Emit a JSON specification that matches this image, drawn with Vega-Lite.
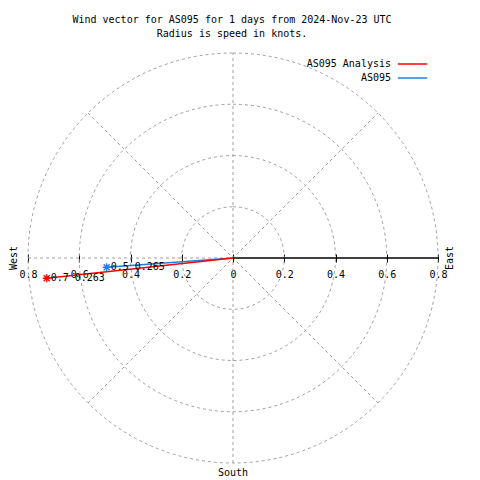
{
  "$schema": "https://vega.github.io/schema/vega-lite/v6.json",
  "width": 410,
  "height": 410,
  "autosize": {"type": "none"},
  "padding": {"left": 28, "top": 53, "right": 42, "bottom": 17},
  "background": "white",
  "config": {"view": {"stroke": null}, "font": "DejaVu Sans Mono"},
  "title": {
    "text": "Wind vector for AS095 for 1 days from 2024-Nov-23 UTC",
    "subtitle": "Radius is speed in knots.",
    "font": "DejaVu Sans Mono",
    "fontSize": 10,
    "fontWeight": "normal",
    "color": "black",
    "subtitleFont": "DejaVu Sans Mono",
    "subtitleFontSize": 10,
    "subtitleColor": "black",
    "subtitlePadding": 4,
    "anchor": "middle",
    "offset": 12,
    "dx": -1
  },
  "datasets": {
    "rings": [
      {"x": 0, "y": 0, "r": 0.2},
      {"x": 0, "y": 0, "r": 0.4},
      {"x": 0, "y": 0, "r": 0.6},
      {"x": 0, "y": 0, "r": 0.8}
    ],
    "spokes": [
      {"x": 0, "y": -0.8, "x2": 0, "y2": 0.8},
      {"x": -0.8, "y": 0, "x2": 0, "y2": 0},
      {"x": -0.5657, "y": -0.5657, "x2": 0.5657, "y2": 0.5657},
      {"x": -0.5657, "y": 0.5657, "x2": 0.5657, "y2": -0.5657}
    ],
    "eastaxis": [
      {"x": 0, "y": 0, "x2": 0.8, "y2": 0}
    ],
    "vectors": [
      {"series": "AS095", "x": 0, "y": 0, "order": 0, "label": ""},
      {"series": "AS095", "x": -0.493, "y": -0.036, "order": 1, "label": "0.5 0.265"},
      {"series": "AS095 Analysis", "x": 0, "y": 0, "order": 0, "label": ""},
      {"series": "AS095 Analysis", "x": -0.727, "y": -0.079, "order": 1, "label": "0.7 0.263"}
    ],
    "compass": [
      {"x": -0.855, "y": 0, "label": "West"},
      {"x": 0.847, "y": 0, "label": "East"}
    ],
    "south": [
      {"x": 0, "y": -0.839, "label": "South"}
    ]
  },
  "encoding": {
    "x": {
      "field": "x",
      "type": "quantitative",
      "scale": {"domain": [-0.8, 0.8], "nice": false, "zero": false},
      "axis": {
        "values": [-0.8, -0.6, -0.4, -0.2, 0, 0.2, 0.4, 0.6, 0.8],
        "labelExpr": "format(abs(datum.value), '.1~f')",
        "domain": false,
        "grid": false,
        "ticks": true,
        "tickColor": "black",
        "tickSize": 8,
        "tickWidth": 1,
        "labelFont": "DejaVu Sans Mono",
        "labelFontSize": 10,
        "labelColor": "black",
        "labelPadding": 7,
        "labelFlush": false,
        "labelOverlap": false,
        "offset": -209,
        "title": null
      }
    },
    "y": {
      "field": "y",
      "type": "quantitative",
      "scale": {"domain": [-0.8, 0.8], "nice": false, "zero": false},
      "axis": null
    }
  },
  "layer": [
    {
      "data": {"name": "rings"},
      "mark": {"type": "arc", "theta": 0, "theta2": 6.2832, "filled": false, "stroke": "#a0a0a0", "strokeDash": [3, 3], "strokeWidth": 1},
      "encoding": {
        "radius": {"field": "r", "type": "quantitative", "stack": null, "scale": {"type": "linear", "domain": [0, 0.8], "range": [0, 205], "zero": true}}
      }
    },
    {
      "data": {"name": "spokes"},
      "mark": {"type": "rule", "stroke": "#a0a0a0", "strokeDash": [3, 3], "strokeWidth": 1},
      "encoding": {"x2": {"field": "x2"}, "y2": {"field": "y2"}}
    },
    {
      "data": {"name": "eastaxis"},
      "mark": {"type": "rule", "stroke": "black", "strokeWidth": 1.5},
      "encoding": {"x2": {"field": "x2"}, "y2": {"field": "y2"}}
    },
    {
      "data": {"name": "vectors"},
      "mark": {"type": "line", "strokeWidth": 1.5},
      "encoding": {
        "color": {
          "field": "series",
          "type": "nominal",
          "scale": {"domain": ["AS095 Analysis", "AS095"], "range": ["#ff0000", "#1f7fe0"]},
          "legend": {
            "orient": "none",
            "legendX": 376,
            "legendY": 2.5,
            "title": null,
            "symbolType": "M-2,0L2,0",
            "symbolSize": 215,
            "symbolStrokeWidth": 1.5,
            "symbolFillColor": "transparent",
            "labelAlign": "right",
            "labelOffset": -30,
            "labelFont": "DejaVu Sans Mono",
            "labelFontSize": 10,
            "labelColor": "black",
            "labelLimit": 300,
            "rowPadding": 0
          }
        },
        "order": {"field": "order", "type": "quantitative"}
      }
    },
    {
      "data": {"name": "vectors"},
      "transform": [{"filter": "datum.order == 1"}],
      "mark": {"type": "point", "shape": "M-1,0L1,0M0,-1L0,1M-0.75,-0.75L0.75,0.75M-0.75,0.75L0.75,-0.75", "size": 64, "filled": false, "strokeWidth": 1.3, "opacity": 1},
      "encoding": {
        "color": {"field": "series", "type": "nominal", "legend": null}
      }
    },
    {
      "data": {"name": "vectors"},
      "transform": [{"filter": "datum.order == 1"}],
      "mark": {"type": "text", "align": "left", "baseline": "middle", "dx": 4, "font": "DejaVu Sans Mono", "fontSize": 10, "color": "black"},
      "encoding": {"text": {"field": "label"}}
    },
    {
      "data": {"name": "compass"},
      "mark": {"type": "text", "align": "center", "baseline": "middle", "angle": 270, "font": "DejaVu Sans Mono", "fontSize": 10, "color": "black"},
      "encoding": {"text": {"field": "label"}}
    },
    {
      "data": {"name": "south"},
      "mark": {"type": "text", "align": "center", "baseline": "middle", "font": "DejaVu Sans Mono", "fontSize": 10, "color": "black"},
      "encoding": {"text": {"field": "label"}}
    }
  ]
}
